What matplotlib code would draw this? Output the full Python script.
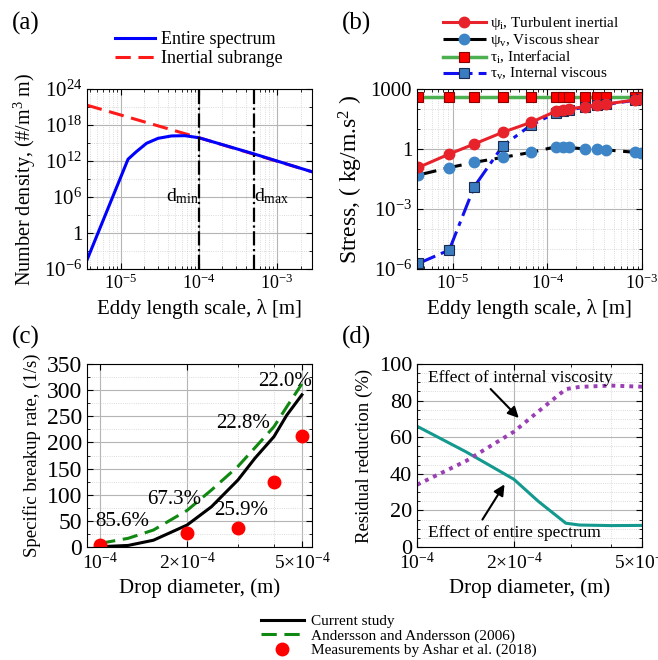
import matplotlib
matplotlib.use('Agg')
import matplotlib.pyplot as plt
import matplotlib.ticker as mticker

plt.rcParams['font.family'] = ['Liberation Serif', 'DejaVu Serif']
plt.rcParams['mathtext.fontset'] = 'custom'
plt.rcParams['mathtext.rm'] = 'Liberation Serif'
plt.rcParams['mathtext.it'] = 'Liberation Serif:italic'
plt.rcParams['mathtext.bf'] = 'Liberation Serif:bold'

# (a) number density of eddies
lam_a = [3.7e-6, 1.24e-5, 1.58e-5, 2.14e-5, 3.0e-5, 4.46e-5, 6.6e-5, 1e-4, 5e-4, 2.8e-3]
n_entire = [3.2e-5, 2e12, 3.5e13, 9e14, 6e15, 1.5e16, 1.66e16, 7.6e15, 1.6e13, 1.6e10]
lam_inert = [3.7e-6, 1e-4, 5e-4, 2.8e-3]
n_inert = [2e21, 7.6e15, 1.4e13, 1.6e10]
d_min = 1e-4
d_max = 5e-4

# (b) stresses
lam_b = [4.35e-6, 9.2e-6, 1.69e-5, 3.37e-5, 6.73e-5, 1.24e-4, 1.45e-4, 1.68e-4,
         2.5e-4, 3.36e-4, 4.18e-4, 8.5e-4, 9.8e-4]
psi_i = [0.12, 0.56, 1.78, 6.8, 21.5, 79, 89, 100, 130, 158, 178, 282, 316]
psi_v = [0.05, 0.117, 0.215, 0.38, 0.68, 1.3, 1.25, 1.2, 1.0, 0.95, 0.9, 0.68, 0.66]
tau_i = [400] * 13
tau_v = [1.9e-6, 8.9e-6, 0.013, 1.41, 15.8, 65, 75, 90, 122, 150, 170, 275, 310]

# (c) specific breakup rate
d_c = [1e-4, 1.25e-4, 1.53e-4, 2e-4, 2.43e-4, 3e-4, 3.44e-4, 4e-4, 4.43e-4, 5e-4]
rate_current = [0.6, 3, 13, 42, 77, 128, 170, 211, 252, 291]
rate_andersson = [7, 16.6, 32.5, 70, 109, 154, 190, 230, 268, 312]
d_meas = [1e-4, 2e-4, 3e-4, 4e-4, 5e-4]
rate_meas = [4, 26, 36, 125, 212]
err_labels = ['85.6%', '67.3%', '25.9%', '22.8%', '22.0%']
err_x = [1.19e-4, 1.81e-4, 3.09e-4, 3.12e-4, 4.37e-4]
err_y = [48, 90, 69, 236, 316]

# (d) residual reduction
d_d = [1e-4, 1.42e-4, 2e-4, 2.38e-4, 2.9e-4, 3.2e-4, 4e-4, 5e-4]
red_spectrum = [66, 52, 37, 25, 13, 12, 11.7, 11.8]
red_viscosity = [34, 47, 63, 74, 86.3, 87.5, 88.2, 87.6]

fig = plt.figure(figsize=(6.58, 6.60), dpi=100)
W, H = 658.0, 660.0


def box(l, t, r, b):
    return [l / W, 1 - b / H, (r - l) / W, (b - t) / H]


def style(ax):
    ax.tick_params(which='both', direction='in', top=True, right=True)
    ax.tick_params(which='major', length=4)
    ax.tick_params(which='minor', length=2)
    ax.grid(True, which='major', color='#b5b5b5', lw=0.8, ls='-')
    ax.grid(True, which='minor', color='#cfcfcf', lw=0.6, ls=':')
    ax.set_axisbelow(True)


ax_a = fig.add_axes(box(87, 89, 312, 269))
ax_b = fig.add_axes(box(417, 89, 642, 269))
ax_c = fig.add_axes(box(87, 364, 312, 547))
ax_d = fig.add_axes(box(417, 364, 642, 547))

# ---- (a)
ax = ax_a
style(ax)
h_inert, = ax.plot(lam_inert, n_inert, color='#ff1a1a', lw=2.2, ls=(0, (5, 2.5)))
h_entire, = ax.plot(lam_a, n_entire, color='#0000ff', lw=2.2)
ax.axvline(d_min, color='black', lw=1.6, ls='-.')
ax.axvline(d_max, color='black', lw=1.6, ls='-.')
ax.text(d_min, 1.5e6, r'd$_{\rm min}$', ha='right', va='center', fontsize=14)
ax.text(d_max, 1.5e6, r'd$_{\rm max}$', ha='left', va='center', fontsize=14)
ax.set_xscale('log')
ax.set_yscale('log')
ax.set_xlim(3.7e-6, 2.8e-3)
ax.set_ylim(1e-6, 1e24)
ax.yaxis.set_major_locator(mticker.FixedLocator([1e-6, 1, 1e6, 1e12, 1e18, 1e24]))
ax.yaxis.set_major_formatter(mticker.FixedFormatter(
    [r'10$^{-6}$', '1', r'10$^{6}$', r'10$^{12}$', r'10$^{18}$', r'10$^{24}$']))
ax.yaxis.set_minor_locator(mticker.FixedLocator([10.0 ** k for k in range(-3, 24, 6)]))
ax.yaxis.set_minor_formatter(mticker.NullFormatter())
ax.xaxis.set_major_locator(mticker.LogLocator(base=10))
ax.xaxis.set_minor_locator(mticker.LogLocator(base=10, subs=range(2, 10)))
ax.tick_params(axis='y', labelsize=15)
ax.tick_params(axis='x', labelsize=13)
ax.set_xlabel(r'Eddy length scale, λ [m]', fontsize=15)
ax.set_ylabel(r'Number density, (#/m$^3$ m)', fontsize=14.5)
fig.legend([h_entire, h_inert], ['Entire spectrum', 'Inertial subrange'],
           loc='center left', bbox_to_anchor=(115 / W, 1 - 49 / H), frameon=False,
           fontsize=13, handlelength=2.2, handletextpad=0.35, labelspacing=0.1,
           borderpad=0, borderaxespad=0)

# ---- (b)
ax = ax_b
style(ax)
h_ti, = ax.plot(lam_b, tau_i, color='#4caf50', lw=2.5, marker='s', ms=7.5,
                mfc='#ff0000', mec='#8b0000', mew=0.8)
h_tv, = ax.plot(lam_b, tau_v, color='#1010f0', lw=2.2, ls=(0, (6, 2, 1.5, 2)), marker='s', ms=7,
                mfc='#3a7cc0', mec='#1a2a50', mew=0.8)
h_pv, = ax.plot(lam_b, psi_v, color='black', lw=2.2, ls=(0, (6, 2.5)), marker='o', ms=7.5,
                mfc='#3d85c6', mec='#3d85c6')
h_pi, = ax.plot(lam_b, psi_i, color='#e8222a', lw=2.2, marker='o', ms=7.5,
                mfc='#e8222a', mec='#e8222a')
ax.set_xscale('log')
ax.set_yscale('log')
ax.set_xlim(4.2e-6, 1e-3)
ax.set_ylim(1e-6, 1e3)
ax.yaxis.set_major_locator(mticker.FixedLocator([1e-6, 1e-3, 1, 1e3]))
ax.yaxis.set_major_formatter(mticker.FixedFormatter([r'10$^{-6}$', r'10$^{-3}$', '1', '1000']))
ax.yaxis.set_minor_locator(mticker.FixedLocator([10.0 ** k for k in range(-6, 4)]))
ax.yaxis.set_minor_formatter(mticker.NullFormatter())
ax.xaxis.set_major_locator(mticker.LogLocator(base=10))
ax.xaxis.set_minor_locator(mticker.LogLocator(base=10, subs=range(2, 10)))
ax.tick_params(axis='y', labelsize=15)
ax.tick_params(axis='x', labelsize=13)
ax.set_xlabel(r'Eddy length scale, λ [m]', fontsize=15)
ax.set_ylabel(r'Stress, ( kg/m.s$^2$ )', fontsize=17)
fig.legend([h_pi, h_pv, h_ti, h_tv],
           [r'ψ$_{\rm i}$, Turbulent inertial', r'ψ$_{\rm v}$, Viscous shear',
            r'τ$_{\rm i}$, Interfacial', r'τ$_{\rm v}$, Internal viscous'],
           loc='center left', bbox_to_anchor=(443 / W, 1 - 48.5 / H), frameon=False,
           fontsize=11, handlelength=2.8, handletextpad=0.3, labelspacing=0.0,
           borderpad=0, borderaxespad=0, numpoints=1)

# ---- (c)
ax = ax_c
style(ax)
h_cur, = ax.plot(d_c, rate_current, color='black', lw=2.2)
h_and, = ax.plot(d_c, rate_andersson, color='#118811', lw=2.2, ls=(0, (5, 2.5)))
h_mea, = ax.plot(d_meas, rate_meas, ls='none', marker='o', ms=9, color='#ff0000')
for lab, x, y in zip(err_labels, err_x, err_y):
    ax.text(x, y, lab, ha='center', va='center', fontsize=15)
ax.set_xscale('log')
ax.set_xlim(9e-5, 5.42e-4)
ax.set_ylim(0, 350)
ax.xaxis.set_major_locator(mticker.FixedLocator([1e-4, 2e-4, 5e-4]))
ax.xaxis.set_major_formatter(mticker.FixedFormatter(
    [r'10$^{-4}$', r'2×10$^{-4}$', r'5×10$^{-4}$']))
ax.xaxis.set_minor_locator(mticker.FixedLocator([9e-5, 3e-4, 4e-4]))
ax.xaxis.set_minor_formatter(mticker.NullFormatter())
ax.yaxis.set_major_locator(mticker.MultipleLocator(50))
ax.yaxis.set_minor_locator(mticker.MultipleLocator(25))
ax.tick_params(axis='y', labelsize=17)
ax.tick_params(axis='x', labelsize=14)
ax.set_xlabel('Drop diameter, (m)', fontsize=15)
ax.set_ylabel('Specific breakup rate, (1/s)', fontsize=13.5)
fig.legend([h_cur, h_and, h_mea],
           ['Current study', 'Andersson and Andersson (2006)', 'Measurements by Ashar et al. (2018)'],
           loc='center left', bbox_to_anchor=(261 / W, 1 - 636 / H), frameon=False,
           fontsize=11, handlelength=2.8, handletextpad=0.45, labelspacing=0.05,
           borderpad=0, borderaxespad=0, numpoints=1)

# ---- (d)
ax = ax_d
style(ax)
ax.plot(d_d, red_spectrum, color='#14998f', lw=2.2)
ax.plot(d_d, red_viscosity, color='#9b3fb5', lw=2.8, ls=(0, (1, 1.3)))
ax.annotate('', xy=(2.1e-4, 69.4), xytext=(1.67e-4, 87.4),
            arrowprops=dict(arrowstyle='-|>', color='black', lw=1.5, mutation_scale=16))
ax.annotate('', xy=(1.89e-4, 35.5), xytext=(1.58e-4, 13.7),
            arrowprops=dict(arrowstyle='-|>', color='black', lw=1.5, mutation_scale=16))
ax.text(2.09e-4, 92.3, 'Effect of internal viscosity', ha='center', va='center', fontsize=12.5)
ax.text(2.0e-4, 7.6, 'Effect of entire spectrum', ha='center', va='center', fontsize=12.5)
ax.set_xscale('log')
ax.set_xlim(1e-4, 5e-4)
ax.set_ylim(0, 100)
ax.xaxis.set_major_locator(mticker.FixedLocator([1e-4, 2e-4, 5e-4]))
ax.xaxis.set_major_formatter(mticker.FixedFormatter(
    [r'10$^{-4}$', r'2×10$^{-4}$', r'5×10$^{-4}$']))
ax.xaxis.set_minor_locator(mticker.FixedLocator([3e-4, 4e-4]))
ax.xaxis.set_minor_formatter(mticker.NullFormatter())
ax.yaxis.set_major_locator(mticker.MultipleLocator(20))
ax.yaxis.set_minor_locator(mticker.MultipleLocator(5))
ax.tick_params(axis='y', labelsize=16)
ax.tick_params(axis='x', labelsize=14)
ax.set_xlabel('Drop diameter, (m)', fontsize=15)
ax.set_ylabel('Residual reduction (%)', fontsize=13.5)

for lab, x, y in [('(a)', 12, 23), ('(b)', 342, 23), ('(c)', 12, 337), ('(d)', 342, 337)]:
    fig.text(x / W, 1 - y / H, lab, ha='left', va='center', fontsize=18)

fig.savefig('out.png', dpi=100)
